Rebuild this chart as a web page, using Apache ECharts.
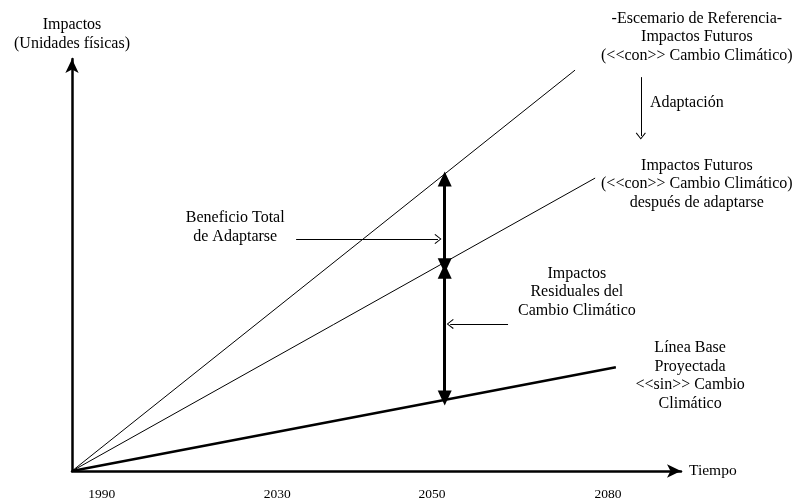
<!DOCTYPE html>
<html>
<head>
<meta charset="utf-8">
<script src="https://cdn.jsdelivr.net/npm/echarts@6/dist/echarts.min.js"></script>
<style>
html, body { margin: 0; background: #fff; }
#chart { width: 799px; height: 501px; }
</style>
</head>
<body>
<div id="chart"></div>
<script>
// schematic units: x 0..100 = time, y 0..100 = impacts
var tickPos = [4.9, 33.7, 59.1, 88];
var tickLabels = ['1990', '2030', '2050', '2080'];

var refLine = [[0, 0], [82.6, 97.3]];
var adaptLine = [[0, 0], [85.9, 71.1]];
var baseLine = [[0, 0], [89.3, 25.2]];

// double arrows at 2050
var benefitSpan = [[61.2, 70.9], [61.2, 49.8]];
var residualSpan = [[61.2, 48.5], [61.2, 17.7]];

// thin pointer arrows (from, to)
var pointers = [
    [[36.8, 56.3], [60.1, 56.3]],
    [[71.6, 35.7], [62.1, 35.7]],
    [[93.4, 95.6], [93.4, 81.3]]
];

var notes = [
    ['-Escemario de Referencia-\nImpactos Futuros\n(<<con>> Cambio Climático)', 102.6, 105.3, 'center'],
    ['Adaptación', 94.9, 89.3, 'left'],
    ['Impactos Futuros\n(<<con>> Cambio Climático)\ndespués de adaptarse', 102.6, 69.7, 'center'],
    ['Beneficio Total\nde Adaptarse', 26.8, 59.2, 'center'],
    ['Impactos\nResiduales del\nCambio Climático', 82.9, 43.4, 'center'],
    ['Línea Base\nProyectada\n<<sin>> Cambio\nClimático', 101.5, 23.1, 'center']
];

var FONT = 'Liberation Serif';
var chevron = 'path://M0,7 L5,0 L10,7 L9.2,7.8 L5,1.6 L0.8,7.8 Z';

var chart = echarts.init(document.getElementById('chart'));

function straight(data, width) {
    return {
        type: 'line',
        data: data,
        symbol: 'none',
        silent: true,
        lineStyle: { color: '#000', width: width }
    };
}

function txt(size, extra) {
    var s = { fontFamily: FONT, fontSize: size, fontWeight: 'normal', color: '#000' };
    for (var k in extra) s[k] = extra[k];
    return s;
}

var option = {
    animation: false,
    backgroundColor: '#fff',
    grid: { left: 72, right: 118, top: 59, bottom: 30 },
    xAxis: {
        type: 'value',
        min: 0,
        max: 100,
        name: 'Tiempo',
        nameLocation: 'end',
        nameGap: 8,
        nameTextStyle: txt(15.5),
        axisLine: {
            show: true,
            symbol: ['none', 'arrow'],
            symbolSize: [10, 14],
            lineStyle: { color: '#000', width: 2.5 }
        },
        axisTick: { show: false },
        splitLine: { show: false },
        axisLabel: txt(13.5, {
            customValues: tickPos,
            margin: 16,
            formatter: function (v) {
                var i = tickPos.indexOf(v);
                return i < 0 ? '' : tickLabels[i];
            }
        })
    },
    yAxis: {
        type: 'value',
        min: 0,
        max: 100,
        name: 'Impactos\n(Unidades físicas)',
        nameLocation: 'end',
        nameGap: 6,
        nameTextStyle: txt(16, { lineHeight: 19, align: 'center' }),
        axisLine: {
            show: true,
            symbol: ['none', 'arrow'],
            symbolSize: [10, 14],
            lineStyle: { color: '#000', width: 2.5 }
        },
        axisTick: { show: false },
        axisLabel: { show: false },
        splitLine: { show: false }
    },
    series: [
        straight(refLine, 1),
        straight(adaptLine, 1),
        straight(baseLine, 2.5),
        {
            type: 'lines',
            coordinateSystem: 'cartesian2d',
            silent: true,
            symbol: ['triangle', 'triangle'],
            symbolSize: [[14, 15], [14, 15]],
            symbolOffset: [[0, 7.5], [0, 7.5]],
            lineStyle: { color: '#000', width: 3, opacity: 1 },
            data: [{ coords: benefitSpan }, { coords: residualSpan }]
        },
        {
            type: 'lines',
            coordinateSystem: 'cartesian2d',
            silent: true,
            symbol: ['none', chevron],
            symbolSize: [[10, 7], [10, 7]],
            lineStyle: { color: '#000', width: 1, opacity: 1 },
            data: pointers.map(function (p) { return { coords: p }; })
        },
        {
            type: 'scatter',
            silent: true,
            clip: false,
            symbolSize: 0,
            itemStyle: { opacity: 1 },
            data: notes.map(function (n) {
                return {
                    name: n[0],
                    value: [n[1], n[2]],
                    label: { align: n[3] }
                };
            }),
            label: txt(16, {
                show: true,
                position: 'inside',
                formatter: '{b}',
                lineHeight: 18.5,
                opacity: 1
            })
        }
    ]
};

chart.setOption(option);
window.onresize = function () { chart.resize(); };
</script>
</body>
</html>
